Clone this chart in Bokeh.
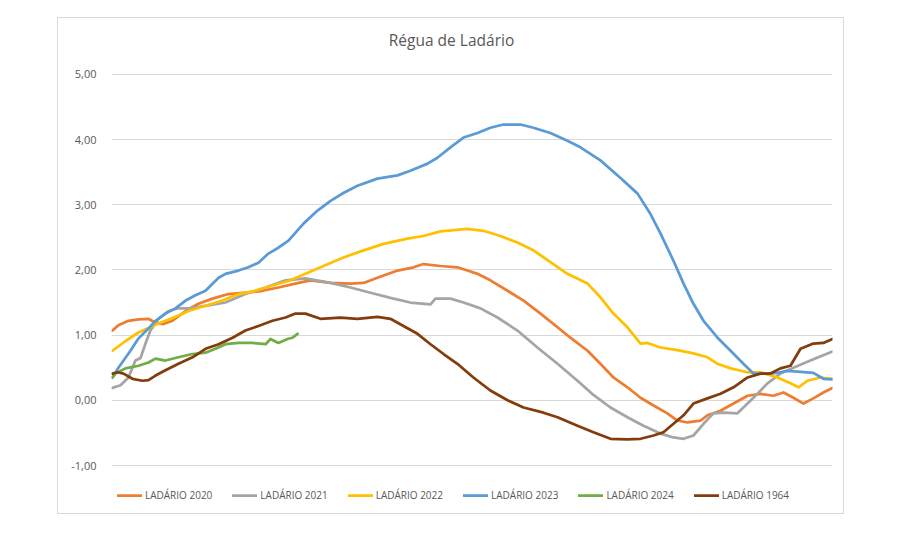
from bokeh.plotting import figure
from bokeh.models import Range1d, FixedTicker, Legend, LegendItem, Label
from bokeh.embed import file_html
from bokeh.resources import INLINE

# ---- data (day of year, water level in m) ----
title_text = "Régua de Ladário"
y_ticks = [-1, 0, 1, 2, 3, 4, 5]
y_tick_labels = ["-1,00", "0,00", "1,00", "2,00", "3,00", "4,00", "5,00"]

d2020 = [0.5, 3.5, 8.6, 13.7, 18.7, 22.3, 26.3, 30.9, 37.5, 44.0, 51.1, 59.2, 67.8, 76.4, 84.5, 94.7, 100.7, 110.9, 121.0, 127.6,
         134.6, 144.8, 152.9, 157.9, 166.5, 175.1, 180.2, 185.3, 191.8, 200.5, 208.6, 217.2, 225.8, 232.3, 241.0, 247.5, 254.1, 261.2,
         267.8, 274.4, 281.4, 286.5, 291.6, 298.2, 301.7, 308.3, 314.9, 322.0, 328.5, 335.1, 340.2, 345.2, 350.3, 355.3, 360.4, 365]
v2020 = [1.07, 1.15, 1.22, 1.24, 1.25, 1.19, 1.17, 1.22, 1.37, 1.48, 1.56, 1.63, 1.65, 1.68, 1.73, 1.80, 1.84, 1.80, 1.79, 1.80,
         1.88, 1.99, 2.04, 2.09, 2.06, 2.04, 1.99, 1.94, 1.84, 1.68, 1.53, 1.33, 1.12, 0.96, 0.76, 0.56, 0.35, 0.20,
         0.04, -0.08, -0.20, -0.31, -0.34, -0.31, -0.23, -0.16, -0.05, 0.07, 0.10, 0.07, 0.12, 0.04, -0.05, 0.03, 0.12, 0.19]

d2021 = [0.5, 4.6, 8.6, 12.1, 14.7, 17.2, 19.7, 23.8, 28.9, 33.4, 39.0, 47.6, 57.7, 67.8, 78.0, 88.1, 98.2, 110.9, 121.0, 131.1,
         141.2, 151.3, 161.5, 164.0, 171.6, 178.2, 186.8, 195.4, 205.5, 215.6, 225.8, 235.9, 243.3, 252.6, 261.2, 269.3, 277.9,
         284.5, 289.6, 294.6, 299.7, 304.7, 309.8, 316.9, 322.0, 327.0, 332.1, 338.6, 345.2, 353.8, 365]
v2021 = [0.19, 0.23, 0.35, 0.61, 0.65, 0.87, 1.07, 1.25, 1.37, 1.41, 1.41, 1.45, 1.50, 1.63, 1.73, 1.84, 1.87, 1.80, 1.73, 1.65,
         1.57, 1.50, 1.47, 1.56, 1.56, 1.50, 1.41, 1.27, 1.07, 0.81, 0.56, 0.30, 0.10, -0.11, -0.26, -0.39, -0.51,
         -0.57, -0.59, -0.54, -0.36, -0.20, -0.19, -0.20, -0.05, 0.10, 0.26, 0.41, 0.50, 0.61, 0.75]

d2022 = [0.5, 7.1, 13.7, 20.8, 27.3, 33.9, 39.0, 47.6, 56.2, 64.3, 72.9, 81.5, 89.6, 98.2, 107.3, 117.4, 127.6, 137.7, 149.8, 157.9,
         166.5, 180.2, 188.3, 196.9, 205.5, 213.6, 223.7, 230.8, 241.0, 247.5, 254.1, 261.2, 267.8, 271.3, 277.9, 286.5, 294.6,
         301.7, 306.8, 313.4, 322.0, 328.5, 337.1, 343.7, 347.8, 352.3, 358.9, 365]
v2022 = [0.76, 0.91, 1.04, 1.14, 1.22, 1.30, 1.37, 1.45, 1.53, 1.63, 1.68, 1.76, 1.83, 1.94, 2.06, 2.19, 2.30, 2.40, 2.48, 2.52,
         2.59, 2.63, 2.60, 2.52, 2.42, 2.30, 2.09, 1.94, 1.79, 1.58, 1.33, 1.12, 0.87, 0.88, 0.81, 0.77, 0.72,
         0.66, 0.56, 0.49, 0.43, 0.43, 0.35, 0.26, 0.20, 0.30, 0.35, 0.33]

d2023 = [0.5, 3.5, 9.6, 13.7, 18.7, 22.3, 27.3, 32.4, 37.5, 42.5, 47.6, 54.2, 57.7, 64.3, 69.3, 74.4, 79.4, 84.5, 89.6, 97.2,
         104.3, 110.9, 117.4, 124.5, 134.6, 144.8, 151.3, 160.0, 165.0, 171.6, 178.2, 185.3, 191.8, 198.4, 207.0, 213.6, 222.2,
         230.8, 237.4, 247.5, 257.7, 266.3, 272.8, 277.9, 284.5, 289.6, 294.6, 299.7, 306.8, 313.4, 319.9, 325.0, 332.1, 337.1,
         342.2, 355.3, 360.4, 365]
v2023 = [0.35, 0.50, 0.76, 0.95, 1.10, 1.22, 1.33, 1.41, 1.53, 1.61, 1.68, 1.88, 1.94, 1.99, 2.04, 2.11, 2.25, 2.34, 2.45, 2.71,
         2.91, 3.06, 3.18, 3.29, 3.40, 3.45, 3.52, 3.63, 3.72, 3.88, 4.03, 4.10, 4.18, 4.23, 4.23, 4.18, 4.10,
         3.98, 3.88, 3.68, 3.41, 3.17, 2.86, 2.56, 2.14, 1.79, 1.48, 1.22, 0.96, 0.76, 0.56, 0.41, 0.41, 0.42,
         0.45, 0.42, 0.33, 0.32]

d2024 = [0.5, 2.0, 7.1, 13.7, 18.7, 22.3, 27.3, 33.9, 41.0, 47.6, 52.6, 57.7, 64.3, 71.4, 78.0, 80.5, 84.5, 89.1, 91.6, 94.2]
v2024 = [0.35, 0.41, 0.49, 0.53, 0.58, 0.64, 0.61, 0.66, 0.71, 0.73, 0.79, 0.86, 0.88, 0.88, 0.86, 0.94, 0.88, 0.94, 0.96, 1.02]

d1964 = [0.5, 3.0, 6.1, 10.6, 15.7, 18.7, 22.3, 27.3, 33.9, 41.0, 47.6, 54.2, 61.3, 67.8, 74.4, 81.5, 88.1, 93.1, 98.2, 105.8,
         115.9, 124.5, 134.6, 141.2, 147.8, 154.9, 161.5, 168.1, 175.1, 183.2, 191.8, 200.5, 208.6, 218.7, 225.8, 235.9, 244.0,
         252.6, 261.2, 267.8, 274.4, 279.4, 284.5, 289.6, 294.6, 301.7, 308.3, 314.9, 322.0, 328.5, 333.6, 338.6, 343.7, 348.8,
         355.3, 360.4, 365]
v1964 = [0.41, 0.43, 0.41, 0.33, 0.30, 0.31, 0.38, 0.46, 0.56, 0.66, 0.79, 0.86, 0.96, 1.07, 1.14, 1.22, 1.27, 1.33, 1.33, 1.25,
         1.27, 1.25, 1.28, 1.25, 1.14, 1.02, 0.86, 0.71, 0.56, 0.35, 0.15, 0.00, -0.11, -0.19, -0.26, -0.39, -0.49,
         -0.59, -0.60, -0.59, -0.54, -0.49, -0.36, -0.23, -0.05, 0.03, 0.10, 0.20, 0.35, 0.41, 0.41, 0.49, 0.53, 0.79,
         0.87, 0.88, 0.94]

series_names = ["LADÁRIO 2020", "LADÁRIO 2021", "LADÁRIO 2022", "LADÁRIO 2023", "LADÁRIO 2024", "LADÁRIO 1964"]
series_days = [d2020, d2021, d2022, d2023, d2024, d1964]
series_vals = [v2020, v2021, v2022, v2023, v2024, v1964]
series_colors = ["#ED7D31", "#A5A5A5", "#FFC000", "#5B9BD5", "#70AD47", "#843C0C"]

FONT = "Open Sans"
TXT = "#595959"

p = figure(width=785, height=495, title=None,
           x_range=Range1d(0, 365), y_range=Range1d(-1.69, 5.81),
           output_backend="svg", toolbar_location=None,
           x_axis_location=None,
           min_border_left=53, min_border_right=11,
           min_border_top=3, min_border_bottom=3)
p.margin = (18, 0, 0, 58)
p.styles = {"outline": "1px solid #d9d9d9"}
p.outline_line_color = None
p.background_fill_color = "white"
p.border_fill_color = "white"

# chart title, placed in screen pixels from the plot frame's bottom-left corner
title = Label(x=340, y=471, x_units="screen", y_units="screen", text=title_text,
              text_align="center", text_baseline="middle",
              text_font=FONT, text_font_size="15.5px", text_color=TXT)
p.add_layout(title)

ax = p.yaxis[0]
ax.ticker = FixedTicker(ticks=y_ticks)
ax.major_label_overrides = dict(zip(y_ticks, y_tick_labels))
ax.axis_line_color = None
ax.major_tick_line_color = None
ax.minor_tick_line_color = None
ax.major_label_standoff = 9
ax.major_label_text_font = FONT
ax.major_label_text_font_size = "11px"
ax.major_label_text_color = TXT

p.xgrid.visible = False
p.ygrid.ticker = FixedTicker(ticks=y_ticks)
p.ygrid.grid_line_color = "#d9d9d9"
p.ygrid.grid_line_width = 1

items = []
for name, xs, ys, c in zip(series_names, series_days, series_vals, series_colors):
    r = p.line(xs, ys, line_color=c, line_width=2.75, line_join="round", line_cap="round")
    items.append(LegendItem(label=name, renderers=[r]))

legend = Legend(items=items, orientation="horizontal", location=(6, 8))
legend.border_line_color = None
legend.background_fill_alpha = 0
legend.padding = 0
legend.margin = 0
legend.spacing = 20
legend.glyph_width = 25
legend.glyph_height = 14
legend.label_height = 14
legend.label_standoff = 3
legend.label_text_font = FONT
legend.label_text_font_size = "10px"
legend.label_text_color = TXT
p.add_layout(legend, "center")

open("out.html", "w").write(file_html(p, INLINE))
